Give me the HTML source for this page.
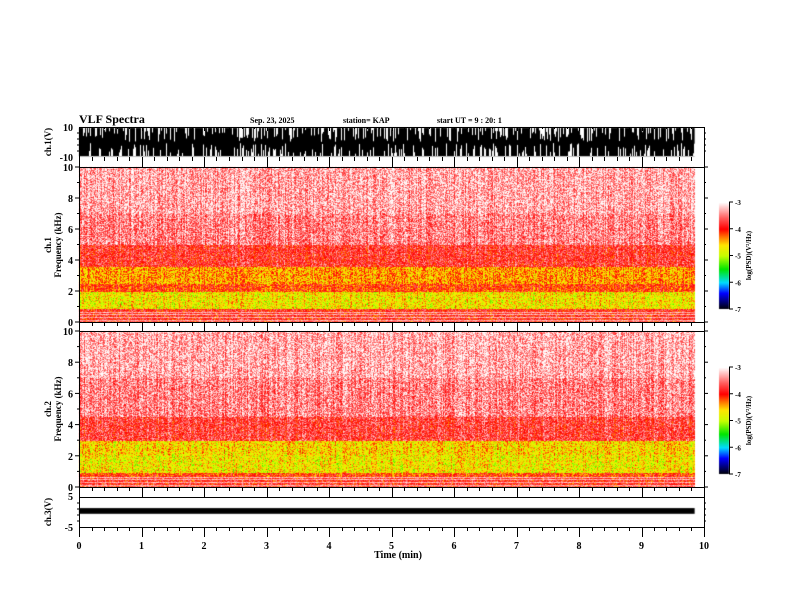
<!DOCTYPE html>
<html><head><meta charset="utf-8"><style>
body{margin:0;background:#fff;}
#wrap{position:relative;width:792px;height:612px;overflow:hidden;font-family:"Liberation Serif",serif;font-weight:bold;}
canvas{position:absolute;left:0;top:0;}
svg{position:absolute;left:0;top:0;}
svg text{font-family:"Liberation Serif",serif;font-weight:bold;fill:#000;}
</style></head><body>
<div id="wrap">
<canvas id="cv" width="792" height="612"></canvas>
<svg id="sv" width="792" height="612"></svg>
</div>
<script>
// ---- data ----
const timeTicks = [0,1,2,3,4,5,6,7,8,9,10];
const dataEndMin = 9.85;
const freqTicks = [0,2,4,6,8,10];
const cbarTicks = [-3,-4,-5,-6,-7];
const ch1BandLo = [0,   0.9, 2.0, 2.5, 3.6, 5.0, 7.0];
const ch1BandHi = [0.9, 2.0, 2.5, 3.6, 5.0, 7.0, 10 ];
const ch1BandLv = [-3.9,-4.7,-4.1,-4.4,-3.8,-3.45,-3.3];
const ch2BandLo = [0,   0.6, 0.9, 2.1, 3.0, 4.5, 7.0];
const ch2BandHi = [0.6, 0.9, 2.1, 3.0, 4.5, 7.0, 10 ];
const ch2BandLv = [-3.9,-4.1,-4.72,-4.62,-3.75,-3.45,-3.3];
const whiteLinesKHz = [0.15,0.3,0.5,0.65];
const ch1Range = [-10,10];
const ch3Range = [-5,5];
const ch3Level = [1.3,-0.6];

const X0=79,X1=704;
const xs = t => X0 + (X1-X0)*t/10;
const panels = {
  w1:{top:127,bot:157},
  s1:{top:167,bot:322},
  s2:{top:331,bot:487},
  w3:{top:497,bot:527}
};
const ys = (p,v,lo,hi) => p.bot - (p.bot-p.top)*(v-lo)/(hi-lo);

const cv=document.getElementById('cv');const ctx=cv.getContext('2d');
function hash(a,b){let h=(a*374761393+b*668265263)|0;h=(h^(h>>>13))*1274126177|0;return ((h^(h>>>16))>>>0)/4294967296;}
function cmap(v){
  const stops=[[-7,0,0,0],[-6.4,0,0,255],[-6,0,220,255],[-5.5,0,230,0],[-5,200,255,0],[-4.6,255,230,0],[-4.3,255,120,0],[-4,255,0,0],[-3.6,255,90,90],[-3,255,255,255]];
  if(v<=-7)return[0,0,0]; if(v>=-3)return[255,255,255];
  for(let i=0;i<stops.length-1;i++){const a=stops[i],b=stops[i+1];if(v>=a[0]&&v<=b[0]){const f=(v-a[0])/(b[0]-a[0]);return[a[1]+(b[1]-a[1])*f,a[2]+(b[2]-a[2])*f,a[3]+(b[3]-a[3])*f];}}
}
function drawSpec(p,lo,hi,lv,seed){
  const xe=Math.round(xs(dataEndMin));
  const img=ctx.createImageData(xe-X0,p.bot-p.top);
  const wl=whiteLinesKHz.map(f=>Math.round(p.bot-(p.bot-p.top)*f/10));
  for(let y=p.top;y<p.bot;y++){
    const f=10*(p.bot-y)/(p.bot-p.top);
    let L=lv[lv.length-1];
    for(let i=0;i<lo.length;i++){if(f>=lo[i]&&f<hi[i]){L=lv[i];break;}}
    const isWL=wl.includes(y);
    for(let x=X0;x<xe;x++){
      const col=hash(x,seed)-0.5;
      let v=L+(hash(x*7+seed,y)-0.5)*0.9+col*0.4;
      if(isWL)v=-3.3+(hash(x,y)-0.5)*0.4;
      const c=cmap(v);const k=((y-p.top)*(xe-X0)+(x-X0))*4;
      img.data[k]=c[0];img.data[k+1]=c[1];img.data[k+2]=c[2];img.data[k+3]=255;
    }
  }
  ctx.putImageData(img,X0,p.top);
}
drawSpec(panels.s1,ch1BandLo,ch1BandHi,ch1BandLv,11);
drawSpec(panels.s2,ch2BandLo,ch2BandHi,ch2BandLv,29);
// ch1 waveform
ctx.fillStyle='#000';
ctx.fillRect(X0,ys(panels.w1,9.5,...ch1Range),xs(dataEndMin)-X0,ys(panels.w1,-9.5,...ch1Range)-ys(panels.w1,9.5,...ch1Range));
ctx.fillStyle='#fff';
for(let x=X0;x<xs(dataEndMin);x++){
  if(hash(x,3)<0.35){const h=2+hash(x,5)*12;ctx.fillRect(x,panels.w1.top+1,1,h);}
  if(hash(x,7)<0.3){const h=2+hash(x,9)*11;ctx.fillRect(x,panels.w1.bot-1-h,1,h);}
}
// ch3 waveform
ctx.fillStyle='#000';
const y3a=ys(panels.w3,ch3Level[0],...ch3Range),y3b=ys(panels.w3,ch3Level[1],...ch3Range);
ctx.fillRect(X0,y3a,xs(dataEndMin)-X0,y3b-y3a);
// colorbars
function cbar(top,bot){
  for(let y=top;y<bot;y++){const v=-3-4*(y-top)/(bot-top);const c=cmap(v);ctx.fillStyle=`rgb(${c[0]|0},${c[1]|0},${c[2]|0})`;ctx.fillRect(719,y,10,1);}
}
cbar(202,309);cbar(367,474);

// ---- svg axes ----
const sv=document.getElementById('sv');const NS='http://www.w3.org/2000/svg';
function el(t,a,txt){const e=document.createElementNS(NS,t);for(const k in a)e.setAttribute(k,a[k]);if(txt!==undefined)e.textContent=txt;sv.appendChild(e);return e;}
function line(x1,y1,x2,y2,name){const e=el('line',{x1,y1,x2,y2,stroke:'#000','stroke-width':1});return e;}
function txt(x,y,s,size,anchor,name,extra){const e=el('text',Object.assign({x,y,'font-size':size,'text-anchor':anchor||'start'},extra||{}),s);return e;}
[[127,167],[167,322],[322,331],[331,487],[487,497],[497,527]].forEach(([a,b],i)=>{
  const r=el('rect',{x:X0+0.5,y:a+0.5,width:X1-X0,height:b-a,fill:'none',stroke:'#000'});
  
});
const tickRows=[[157,167],[322,331],[487,497],[527,537]];
for(let t=0;t<=10.001;t+=0.2){
  const x=Math.round(xs(t))+0.5;const major=Math.abs(t-Math.round(t))<0.01;
  tickRows.forEach(([a,b])=>{line(x,a,x,a+(major?(b-a):4),'time-tick');});
  line(x,127,x,127+(major?4:2),'time-tick-top');
}
timeTicks.forEach(t=>txt(xs(t),549,String(t),10,'middle','time-tick-label'));
txt(398,558,'Time  (min)',10,'middle','x-axis-title');
function fAxis(p,name){
  freqTicks.forEach(f=>{const y=ys(p,f,0,10);line(X0-4,y,X0,y,name+'-tick');line(X1,y,X1+4,y,name+'-tick');txt(X0-6,y+4,String(f),10,'end',name+'-tick-label');});
  for(let f=1;f<10;f+=2){const y=ys(p,f,0,10);line(X0-2,y,X0,y,name+'-minor');line(X1,y,X1+2,y,name+'-minor');}
}
fAxis(panels.s1,'ch1-freq');fAxis(panels.s2,'ch2-freq');
txt(X0-6,131,'10',10,'end','ch1-ymax');txt(X0-6,161,'-10',10,'end','ch1-ymin');
txt(X0-6,500,'5',10,'end','ch3-ymax');txt(X0-6,531,'-5',10,'end','ch3-ymin');
[[127,157],[497,527]].forEach(([a,b])=>{for(let i=1;i<5;i++){const y=a+(b-a)*i/5;line(X0-2,y,X0,y,'wave-minor');line(X1,y,X1+2,y,'wave-minor');}});
txt(0,0,'ch.1(V)',9,'middle','ch1-axis-title',{transform:'translate(51,142) rotate(-90)'});
txt(0,0,'ch.3(V)',9,'middle','ch3-axis-title',{transform:'translate(51,512) rotate(-90)'});
txt(0,0,'ch.1',9,'middle','ch1-spec-label',{transform:'translate(51,245) rotate(-90)'});
txt(0,0,'Frequency  (kHz)',9,'middle','ch1-freq-title',{transform:'translate(61,245) rotate(-90)'});
txt(0,0,'ch.2',9,'middle','ch2-spec-label',{transform:'translate(51,409) rotate(-90)'});
txt(0,0,'Frequency  (kHz)',9,'middle','ch2-freq-title',{transform:'translate(61,409) rotate(-90)'});
txt(79,123,'VLF Spectra',12,'start','figure-title');
txt(250,123,'Sep. 23, 2025',8,'start','date-label');
txt(343,123,'station= KAP',8,'start','station-label');
txt(437,123,'start  UT =   9  : 20: 1',8,'start','start-time-label');
function cbAxis(top,bot,n){
  const r=el('rect',{x:719,y:top,width:10,height:bot-top,fill:'none',stroke:'none'});
  line(729.5,top,729.5,bot,'colorbar-axis');
  cbarTicks.forEach(v=>{const y=top+(bot-top)*(-3-v)/4;line(729,y,733,y,'colorbar-tick');txt(735,y+3,String(v),7,'start','colorbar-tick-label');});
  txt(0,0,'log(PSD)(V\u00B2/Hz)',7,'middle','colorbar-title',{transform:`translate(751,${(top+bot)/2}) rotate(-90)`});
}
cbAxis(202,309,1);cbAxis(367,474,2);
</script>
</body></html>
